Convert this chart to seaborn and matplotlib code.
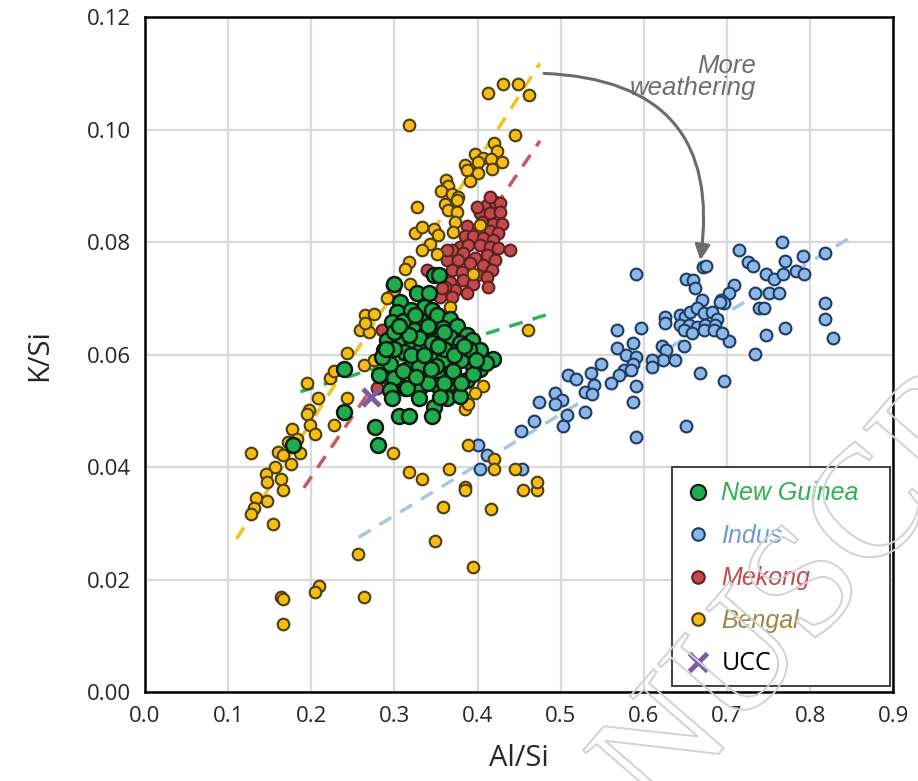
import numpy as np
import pandas as pd
import matplotlib
matplotlib.use("Agg")
import matplotlib.pyplot as plt
import seaborn as sns
from matplotlib.lines import Line2D
from matplotlib.patches import PathPatch, Rectangle
from matplotlib.textpath import TextPath
from matplotlib.font_manager import FontProperties
from matplotlib.transforms import Affine2D, IdentityTransform

# Al/Si, K/Si
indus_x = [0.590, 0.715, 0.766, 0.818, 0.792, 0.770, 0.725, 0.731, 0.671, 0.675,
           0.651, 0.659, 0.661, 0.709, 0.747, 0.757, 0.767, 0.783, 0.793, 0.734,
           0.751, 0.763, 0.703, 0.693, 0.696, 0.670, 0.738, 0.744, 0.818, 0.818,
           0.828, 0.770, 0.747, 0.734, 0.703, 0.696, 0.667, 0.651, 0.590, 0.644,
           0.650, 0.656, 0.664, 0.672, 0.682, 0.688, 0.644, 0.654, 0.664, 0.674,
           0.686, 0.648, 0.658, 0.672, 0.684, 0.694, 0.692, 0.626, 0.626, 0.648,
           0.622, 0.627, 0.623, 0.638, 0.610, 0.610, 0.597, 0.568, 0.587, 0.568,
           0.578, 0.590, 0.587, 0.576, 0.584, 0.570, 0.561, 0.590, 0.587, 0.548,
           0.536, 0.509, 0.519, 0.540, 0.529, 0.538, 0.493, 0.501, 0.493, 0.474,
           0.507, 0.503, 0.529, 0.468, 0.452, 0.401, 0.411, 0.403, 0.453]
indus_y = [0.0743, 0.0786, 0.0800, 0.0781, 0.0776, 0.0766, 0.0765, 0.0757, 0.0756, 0.0757,
           0.0734, 0.0732, 0.0719, 0.0724, 0.0744, 0.0734, 0.0744, 0.0748, 0.0743, 0.0710,
           0.0710, 0.0710, 0.0710, 0.0697, 0.0691, 0.0697, 0.0682, 0.0682, 0.0691, 0.0663,
           0.0630, 0.0648, 0.0634, 0.0601, 0.0625, 0.0553, 0.0568, 0.0473, 0.0454, 0.0670,
           0.0667, 0.0676, 0.0682, 0.0674, 0.0675, 0.0664, 0.0652, 0.0652, 0.0649, 0.0652,
           0.0652, 0.0644, 0.0638, 0.0644, 0.0644, 0.0638, 0.0694, 0.0667, 0.0657, 0.0615,
           0.0615, 0.0608, 0.0591, 0.0591, 0.0591, 0.0578, 0.0648, 0.0644, 0.0620, 0.0611,
           0.0600, 0.0596, 0.0583, 0.0572, 0.0572, 0.0564, 0.0550, 0.0545, 0.0515, 0.0583,
           0.0568, 0.0564, 0.0557, 0.0546, 0.0534, 0.0530, 0.0531, 0.0520, 0.0512, 0.0516,
           0.0492, 0.0473, 0.0497, 0.0482, 0.0464, 0.0439, 0.0421, 0.0396, 0.0396]

mekong_x = [0.411, 0.421, 0.427, 0.403, 0.415, 0.427, 0.405, 0.419, 0.429, 0.387,
            0.403, 0.415, 0.425, 0.385, 0.395, 0.407, 0.419, 0.379, 0.389, 0.403,
            0.415, 0.425, 0.439, 0.369, 0.383, 0.397, 0.411, 0.421, 0.363, 0.377,
            0.391, 0.407, 0.417, 0.369, 0.381, 0.399, 0.411, 0.367, 0.383, 0.395,
            0.413, 0.373, 0.387, 0.361, 0.355, 0.339, 0.369, 0.363, 0.357, 0.285,
            0.299, 0.279, 0.285, 0.415, 0.399]
mekong_y = [0.0866, 0.0872, 0.0869, 0.0851, 0.0851, 0.0854, 0.0836, 0.0833, 0.0833, 0.0828,
            0.0825, 0.0819, 0.0816, 0.0810, 0.0810, 0.0807, 0.0804, 0.0792, 0.0795, 0.0795,
            0.0792, 0.0789, 0.0786, 0.0786, 0.0780, 0.0771, 0.0777, 0.0768, 0.0768, 0.0768,
            0.0762, 0.0759, 0.0750, 0.0750, 0.0747, 0.0741, 0.0738, 0.0729, 0.0732, 0.0726,
            0.0721, 0.0715, 0.0709, 0.0721, 0.0703, 0.0750, 0.0703, 0.0786, 0.0718, 0.0644,
            0.0644, 0.0540, 0.0560, 0.0880, 0.0862]

bengal_x = [0.413, 0.430, 0.449, 0.462, 0.318, 0.445, 0.420, 0.423, 0.397, 0.407,
            0.416, 0.429, 0.385, 0.400, 0.417, 0.387, 0.401, 0.391, 0.362, 0.364,
            0.356, 0.369, 0.377, 0.327, 0.375, 0.361, 0.365, 0.375, 0.373, 0.371,
            0.325, 0.333, 0.347, 0.353, 0.343, 0.351, 0.333, 0.403, 0.395, 0.317,
            0.313, 0.319, 0.293, 0.299, 0.367, 0.297, 0.291, 0.265, 0.275, 0.259,
            0.269, 0.265, 0.313, 0.243, 0.263, 0.275, 0.195, 0.223, 0.227, 0.208,
            0.243, 0.197, 0.195, 0.199, 0.205, 0.227, 0.177, 0.183, 0.172, 0.407,
            0.397, 0.385, 0.389, 0.128, 0.160, 0.166, 0.186, 0.156, 0.176, 0.146,
            0.147, 0.164, 0.166, 0.134, 0.147, 0.131, 0.128, 0.154, 0.256, 0.163,
            0.166, 0.209, 0.205, 0.263, 0.166, 0.298, 0.317, 0.333, 0.366, 0.385,
            0.385, 0.358, 0.349, 0.394, 0.388, 0.420, 0.420, 0.416, 0.445, 0.455,
            0.471, 0.471, 0.461]
bengal_y = [0.1066, 0.1081, 0.1081, 0.1062, 0.1009, 0.0990, 0.0977, 0.0962, 0.0956, 0.0949,
            0.0947, 0.0943, 0.0937, 0.0943, 0.0930, 0.0928, 0.0923, 0.0909, 0.0910, 0.0900,
            0.0891, 0.0886, 0.0880, 0.0863, 0.0874, 0.0868, 0.0857, 0.0854, 0.0836, 0.0818,
            0.0816, 0.0827, 0.0824, 0.0812, 0.0797, 0.0779, 0.0786, 0.0830, 0.0743, 0.0765,
            0.0753, 0.0726, 0.0703, 0.0715, 0.0685, 0.0724, 0.0700, 0.0670, 0.0673, 0.0644,
            0.0641, 0.0656, 0.0650, 0.0602, 0.0581, 0.0590, 0.0549, 0.0558, 0.0570, 0.0522,
            0.0522, 0.0501, 0.0495, 0.0474, 0.0459, 0.0474, 0.0468, 0.0450, 0.0445, 0.0544,
            0.0531, 0.0504, 0.0512, 0.0425, 0.0426, 0.0421, 0.0425, 0.0400, 0.0406, 0.0388,
            0.0373, 0.0379, 0.0359, 0.0345, 0.0340, 0.0327, 0.0316, 0.0298, 0.0245, 0.0168,
            0.0165, 0.0188, 0.0178, 0.0168, 0.0121, 0.0425, 0.0392, 0.0378, 0.0396, 0.0365,
            0.0359, 0.0329, 0.0269, 0.0222, 0.0439, 0.0415, 0.0396, 0.0325, 0.0396, 0.0359,
            0.0359, 0.0374, 0.0644]

guinea_x = [0.299, 0.307, 0.327, 0.341, 0.335, 0.345, 0.303, 0.297, 0.331, 0.351,
            0.367, 0.323, 0.339, 0.359, 0.375, 0.387, 0.393, 0.291, 0.305, 0.321,
            0.341, 0.355, 0.367, 0.379, 0.403, 0.419, 0.287, 0.295, 0.311, 0.331,
            0.345, 0.359, 0.371, 0.387, 0.393, 0.403, 0.281, 0.299, 0.315, 0.335,
            0.351, 0.371, 0.387, 0.295, 0.313, 0.331, 0.351, 0.367, 0.297, 0.329,
            0.363, 0.379, 0.347, 0.305, 0.317, 0.345, 0.239, 0.239, 0.277, 0.280,
            0.178, 0.347, 0.354, 0.310, 0.320, 0.330, 0.345, 0.360, 0.350, 0.330,
            0.310, 0.320, 0.340, 0.360, 0.380, 0.370, 0.390, 0.300, 0.315, 0.340,
            0.360, 0.325, 0.285, 0.300, 0.410, 0.355, 0.380, 0.395, 0.318, 0.336,
            0.352, 0.372, 0.306, 0.290, 0.384, 0.398, 0.326, 0.344]
guinea_y = [0.0725, 0.0694, 0.0709, 0.0709, 0.0685, 0.0679, 0.0676, 0.0658, 0.0661, 0.0670,
            0.0664, 0.0644, 0.0644, 0.0647, 0.0650, 0.0635, 0.0626, 0.0626, 0.0623, 0.0623,
            0.0623, 0.0629, 0.0632, 0.0620, 0.0608, 0.0593, 0.0608, 0.0584, 0.0605, 0.0608,
            0.0590, 0.0590, 0.0605, 0.0602, 0.0584, 0.0575, 0.0564, 0.0558, 0.0575, 0.0570,
            0.0567, 0.0567, 0.0555, 0.0537, 0.0540, 0.0543, 0.0546, 0.0549, 0.0522, 0.0522,
            0.0522, 0.0526, 0.0507, 0.0490, 0.0490, 0.0490, 0.0574, 0.0498, 0.0472, 0.0440,
            0.0440, 0.0741, 0.0741, 0.0660, 0.0680, 0.0630, 0.0620, 0.0610, 0.0580, 0.0580,
            0.0570, 0.0600, 0.0650, 0.0640, 0.0590, 0.0570, 0.0610, 0.0610, 0.0540, 0.0550,
            0.0550, 0.0670, 0.0595, 0.0640, 0.0585, 0.0525, 0.0550, 0.0565, 0.0635, 0.0600,
            0.0615, 0.0600, 0.0650, 0.0610, 0.0615, 0.0590, 0.0560, 0.0575]

ucc_x, ucc_y = [0.272], [0.0525]

# dashed trend lines (end points)
trend_bengal = ([0.110, 0.475], [0.0272, 0.1118])
trend_mekong = ([0.191, 0.475], [0.0363, 0.0980])
trend_guinea = ([0.187, 0.492], [0.0534, 0.0675])
trend_indus = ([0.257, 0.856], [0.0275, 0.0815])

c_guinea, e_guinea = "#1fac4d", "#0d1a10"
c_indus, e_indus = "#8db7e6", "#1b3d63"
c_mekong, e_mekong = "#c24a4c", "#5c2222"
c_bengal, e_bengal = "#f7bd14", "#4d3e0d"
c_ucc = "#7a5ca3"

sns.set_style("whitegrid")
plt.rcParams['font.family'] = ['Open Sans', 'DejaVu Sans']

fig = plt.figure(figsize=(9.18, 7.81), dpi=100)
ax = fig.add_axes([0.158, 0.114, 0.815, 0.864])

ax.plot(*trend_indus, ls=(0, (4, 3)), color="#a9c4e4", lw=2.5, zorder=1)
ax.plot(*trend_bengal, ls=(0, (4, 3)), color="#f2c21b", lw=2.5, zorder=1)
ax.plot(*trend_mekong, ls=(0, (4, 3)), color="#c85a5c", lw=2.5, zorder=1)
ax.plot(*trend_guinea, ls=(0, (4, 3)), color="#2fb35a", lw=2.5, zorder=1)

sns.scatterplot(x=indus_x, y=indus_y, ax=ax, s=72, color=c_indus, edgecolor=e_indus,
                linewidth=1.5, zorder=2)
sns.scatterplot(x=mekong_x, y=mekong_y, ax=ax, s=72, color=c_mekong, edgecolor=e_mekong,
                linewidth=1.5, zorder=3)
sns.scatterplot(x=bengal_x, y=bengal_y, ax=ax, s=70, color=c_bengal, edgecolor=e_bengal,
                linewidth=1.5, zorder=4)
sns.scatterplot(x=guinea_x, y=guinea_y, ax=ax, s=115, color=c_guinea, edgecolor=e_guinea,
                linewidth=1.8, zorder=5)
ax.scatter(ucc_x, ucc_y, marker="x", s=150, color=c_ucc, linewidths=3.5, zorder=6)

ax.set_xlim(0, 0.9)
ax.set_ylim(0, 0.12)
ax.set_xticks(np.arange(0, 0.91, 0.1))
ax.set_yticks(np.arange(0, 0.121, 0.02))
ax.set_xticklabels([f"{v:.1f}" for v in np.arange(0, 0.91, 0.1)])
ax.set_yticklabels([f"{v:.2f}" for v in np.arange(0, 0.121, 0.02)])
ax.tick_params(axis="both", direction="out", length=5, width=1.5, color="black",
               labelsize=16, pad=5)
ax.grid(True, color="#dadada", lw=1.6)
for side in ["left", "bottom", "top", "right"]:
    ax.spines[side].set_color("black")
    ax.spines[side].set_linewidth(1.8)
ax.set_xlabel("Al/Si", fontsize=21, labelpad=12)
ax.set_ylabel("K/Si", fontsize=21, labelpad=24)

ax.text(0.735, 0.1093, "More\nweathering", ha="right", va="center", style="italic",
        fontsize=18.5, color="#6d6d6d", family=["Liberation Sans", "DejaVu Sans"],
        linespacing=0.9)
ax.annotate("", xy=(0.668, 0.0768), xytext=(0.480, 0.1100),
            arrowprops=dict(arrowstyle="-|>,head_length=0.9,head_width=0.45",
                            color="#6b6b6b", lw=2.2, shrinkA=0, shrinkB=0,
                            connectionstyle="arc3,rad=-0.55"), zorder=7)

# legend box drawn on its own, entries placed inside it
ax.add_patch(Rectangle((0.7045, 0.009), 0.2915, 0.324, transform=ax.transAxes,
                       facecolor="white", edgecolor="#333333", lw=1.3, zorder=8))
handles = [
    Line2D([], [], ls="", marker="o", ms=11, mfc=c_guinea, mec=e_guinea, mew=1.5),
    Line2D([], [], ls="", marker="o", ms=9, mfc=c_indus, mec=e_indus, mew=1.5),
    Line2D([], [], ls="", marker="o", ms=9, mfc=c_mekong, mec=e_mekong, mew=1.5),
    Line2D([], [], ls="", marker="o", ms=9, mfc=c_bengal, mec=e_bengal, mew=1.5),
    Line2D([], [], ls="", marker="x", ms=13, mec=c_ucc, mew=3.5),
]
labels = ["New Guinea", "Indus", "Mekong", "Bengal", "UCC"]
leg = ax.legend(handles, labels, loc="upper left", bbox_to_anchor=(0.722, 0.312),
                frameon=False, prop=dict(family=["Liberation Sans", "DejaVu Sans"],
                                         style="italic", size=18),
                labelspacing=0.74, handletextpad=0.45, borderpad=0, handlelength=1.0,
                borderaxespad=0)
leg.set_zorder(9)
for t, c in zip(leg.get_texts(), ["#2fb04f", "#6f9cd0", "#c24a4c", "#9a8647", "black"]):
    t.set_color(c)
leg.get_texts()[-1].set_style("normal")
leg.get_texts()[-1].set_family(["Open Sans", "DejaVu Sans"])

# faint watermark over the lower right corner
wm = TextPath((0, 0), "MANUSCRIPT", size=160, prop=FontProperties(family="Liberation Serif"))
wm_tr = Affine2D().rotate_deg(49).translate(490, -236)
fig.add_artist(PathPatch(wm, transform=wm_tr + IdentityTransform(), facecolor="none",
                         edgecolor="#d2d2d2", lw=1.4, zorder=20))

fig.savefig("out.png", dpi=100)
